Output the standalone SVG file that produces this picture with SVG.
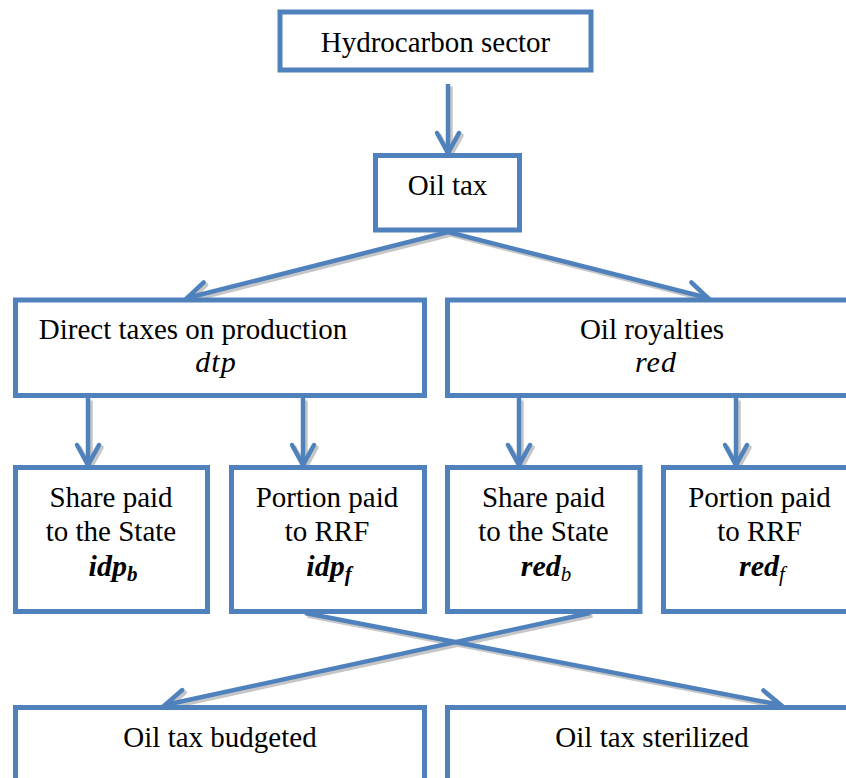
<svg xmlns="http://www.w3.org/2000/svg" width="846" height="778" viewBox="0 0 846 778" font-family="'Liberation Serif', 'Times New Roman', serif">
<style>
.box{fill:#ffffff;stroke:#4F81BD;stroke-width:5}
text{fill:#000;text-anchor:middle}
.t{font-size:29px}
.m{font-style:italic;font-size:30px;letter-spacing:1px}
.mb{font-style:italic;font-weight:bold;font-size:30px}
.sub{font-size:21px}
.c{fill:none;stroke:#4F81BD;stroke-width:4.5;marker-end:url(#ah)}
.s{fill:none;stroke:#c6c6c6;stroke-width:4.5;marker-end:url(#ahs)}
</style>
<defs>
<marker id="ah" markerUnits="userSpaceOnUse" viewBox="-25 -15 30 30" refX="0" refY="0" markerWidth="30" markerHeight="30" orient="auto" overflow="visible">
<path d="M-20,-11 L0,0 L-20,11" fill="none" stroke="#4F81BD" stroke-width="4.5" stroke-linecap="round"/>
</marker>
<marker id="ahs" markerUnits="userSpaceOnUse" viewBox="-25 -15 30 30" refX="0" refY="0" markerWidth="30" markerHeight="30" orient="auto" overflow="visible">
<path d="M-20,-11 L0,0 L-20,11" fill="none" stroke="#c6c6c6" stroke-width="4.5" stroke-linecap="round"/>
</marker>
</defs>
<rect width="846" height="778" fill="#ffffff"/>
<g id="connectors">
<g transform="translate(2.5,2.5)">
<line class="s" x1="448" y1="84" x2="448" y2="153"/>
<line class="s" x1="448" y1="232" x2="187" y2="298"/>
<line class="s" x1="448" y1="232" x2="708" y2="298"/>
<line class="s" x1="88" y1="398" x2="88" y2="465"/>
<line class="s" x1="303" y1="398" x2="303" y2="465"/>
<line class="s" x1="519" y1="398" x2="519" y2="465"/>
<line class="s" x1="736" y1="398" x2="736" y2="465"/>
<line class="s" x1="305" y1="613" x2="781" y2="705"/>
<line class="s" x1="590" y1="613" x2="165" y2="705"/>
</g>
<line class="c" x1="448" y1="84" x2="448" y2="153"/>
<line class="c" x1="448" y1="232" x2="187" y2="298"/>
<line class="c" x1="448" y1="232" x2="708" y2="298"/>
<line class="c" x1="88" y1="398" x2="88" y2="465"/>
<line class="c" x1="303" y1="398" x2="303" y2="465"/>
<line class="c" x1="519" y1="398" x2="519" y2="465"/>
<line class="c" x1="736" y1="398" x2="736" y2="465"/>
<line class="c" x1="305" y1="613" x2="781" y2="705"/>
<line class="c" x1="590" y1="613" x2="165" y2="705"/>
</g>
<g id="hydrocarbon">
<rect class="box" x="280" y="12" width="311" height="58"/>
<text class="t" x="435.5" y="52">Hydrocarbon sector</text>
</g>
<g id="oiltax">
<rect class="box" x="375.5" y="155.5" width="144" height="74.5"/>
<text class="t" x="447.5" y="195">Oil tax</text>
</g>
<g id="dtp">
<rect class="box" x="15.5" y="300" width="409" height="95.5"/>
<text class="t" x="193" y="339">Direct taxes on production</text>
<text class="m" x="216" y="372">dtp</text>
</g>
<g id="red">
<rect class="box" x="447.5" y="300" width="409" height="95.5"/>
<text class="t" x="652" y="339">Oil royalties</text>
<text class="m" x="656" y="372">red</text>
</g>
<g id="idpb">
<rect class="box" x="15.5" y="467.5" width="192" height="144"/>
<text class="t" x="111" y="507">Share paid</text>
<text class="t" x="111" y="541">to the State</text>
<text class="mb" x="113" y="576">idp<tspan class="sub" dy="5">b</tspan></text>
</g>
<g id="idpf">
<rect class="box" x="231.5" y="467.5" width="193" height="144"/>
<text class="t" x="327" y="507">Portion paid</text>
<text class="t" x="327" y="541">to RRF</text>
<text class="mb" x="329" y="576">idp<tspan class="sub" dy="5">f</tspan></text>
</g>
<g id="redb">
<rect class="box" x="447.5" y="467.5" width="192.5" height="144"/>
<text class="t" x="543.5" y="507">Share paid</text>
<text class="t" x="543.5" y="541">to the State</text>
<text class="mb" x="546" y="576">red<tspan class="sub" dy="5" font-weight="normal">b</tspan></text>
</g>
<g id="redf">
<rect class="box" x="663.5" y="467.5" width="193" height="144"/>
<text class="t" x="759.5" y="507">Portion paid</text>
<text class="t" x="759.5" y="541">to RRF</text>
<text class="mb" x="762" y="576">red<tspan class="sub" dy="5" font-weight="normal">f</tspan></text>
</g>
<g id="budgeted">
<rect class="box" x="15.5" y="707.5" width="409" height="100"/>
<text class="t" x="220" y="747">Oil tax budgeted</text>
</g>
<g id="sterilized">
<rect class="box" x="447.5" y="707.5" width="409" height="100"/>
<text class="t" x="652" y="747">Oil tax sterilized</text>
</g>
</svg>
